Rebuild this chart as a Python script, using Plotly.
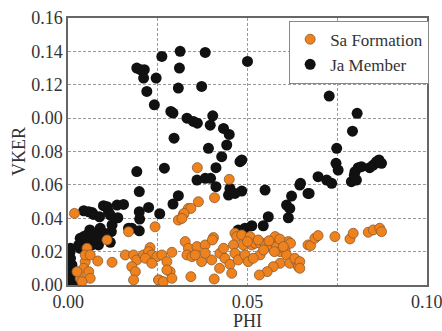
import plotly.graph_objects as go

# Ja Member (black)
ja_phi = [0.0191, 0.0201, 0.0212, 0.0210, 0.0219, 0.0261, 0.0312, 0.0310, 0.0307, 0.0245,
          0.0240, 0.0286, 0.0292, 0.0331, 0.0295, 0.0268, 0.0191, 0.0198, 0.0307, 0.0292,
          0.0224, 0.0255, 0.0198, 0.0199, 0.0177, 0.0168, 0.0198, 0.0138, 0.0122, 0.0117,
          0.0043, 0.0057, 0.0066, 0.0070, 0.0087, 0.0098, 0.0108, 0.0112, 0.0117, 0.0136,
          0.0154, 0.0089, 0.0084, 0.0070, 0.0061, 0.0052, 0.0043, 0.0033, 0.0029, 0.0033,
          0.0047, 0.0057, 0.0066, 0.0075, 0.0084, 0.0006, 0.0005, 0.0006, 0.0003, 0.0004,
          0.0006, 0.0015, 0.0019, 0.0010, 0.0020, 0.0012, 0.0030, 0.0060, 0.0100, 0.0050,
          0.0080, 0.0120,
          0.0382, 0.0500, 0.0372, 0.0349, 0.0360, 0.0403, 0.0396, 0.0433, 0.0449, 0.0442,
          0.0391, 0.0428, 0.0479, 0.0484, 0.0412, 0.0359, 0.0382, 0.0397, 0.0412, 0.0451,
          0.0447, 0.0465, 0.0484, 0.0549, 0.0474, 0.0493, 0.0512, 0.0544, 0.0558, 0.0614,
          0.0609, 0.0618, 0.0623, 0.0648, 0.0669,
          0.0728, 0.0806, 0.0793, 0.0749, 0.0747, 0.0753, 0.0697, 0.0721, 0.0735, 0.0646,
          0.0672, 0.0790, 0.0804, 0.0800, 0.0809, 0.0818, 0.0841, 0.0851, 0.0860, 0.0867,
          0.0874, 0.0798]
ja_vker = [0.130, 0.129, 0.129, 0.124, 0.116, 0.137, 0.140, 0.130, 0.118, 0.124,
           0.108, 0.104, 0.103, 0.100, 0.088, 0.070, 0.068, 0.056, 0.0535, 0.0485,
           0.0465, 0.0427, 0.0439, 0.0395, 0.034, 0.034, 0.0325, 0.0403, 0.036, 0.0256,
           0.0445, 0.0439, 0.0435, 0.0423, 0.0409, 0.0475, 0.0469, 0.0439, 0.0419, 0.0479,
           0.0483, 0.034, 0.030, 0.030, 0.030, 0.030, 0.029, 0.028, 0.024, 0.022,
           0.022, 0.024, 0.024, 0.025, 0.024, 0.022, 0.020, 0.016, 0.010, 0.006,
           0.002, 0.002, 0.000, 0.012, 0.008, 0.004, 0.001, 0.033, 0.031, 0.027,
           0.028, 0.032,
           0.1394, 0.134, 0.119, 0.098, 0.097, 0.1014, 0.0958, 0.0938, 0.0902, 0.0839,
           0.0819, 0.0769, 0.0739, 0.0749, 0.0703, 0.0629, 0.0639, 0.0639, 0.0589, 0.0579,
           0.0539, 0.0549, 0.0563, 0.0569, 0.0329, 0.0340, 0.0355, 0.0355, 0.0409, 0.0403,
           0.0479, 0.0459, 0.0533, 0.0609, 0.0549,
           0.1132, 0.1029, 0.0922, 0.0819, 0.0729, 0.0689, 0.0649, 0.0629, 0.0609, 0.0599,
           0.0549, 0.0619, 0.0629, 0.0679, 0.0703, 0.0709, 0.0703, 0.0719, 0.0739, 0.0749,
           0.0729, 0.0659]

# Sa Formation (orange)
sa_phi = [0.0017, 0.0242, 0.0168, 0.0108, 0.0228, 0.0159, 0.0122, 0.0082, 0.0052, 0.0047,
          0.0043, 0.0057, 0.0033, 0.0061, 0.0038, 0.0024, 0.0047, 0.0061, 0.0182, 0.0191,
          0.0177, 0.0187, 0.0182, 0.0210, 0.0224, 0.0233, 0.0247, 0.0261, 0.0275, 0.0284,
          0.0252, 0.0261, 0.0289, 0.0307, 0.0321, 0.0335, 0.0326, 0.0335, 0.0331,
          0.0360, 0.0449, 0.0408, 0.0363, 0.0342, 0.0323, 0.0317, 0.0359, 0.0382, 0.0405,
          0.0402, 0.0345, 0.0372, 0.0400, 0.0423, 0.0437, 0.0422, 0.0451, 0.0456, 0.0407,
          0.0342, 0.0465, 0.0470, 0.0461, 0.0465, 0.0474, 0.0484, 0.0488, 0.0493, 0.0502,
          0.0507, 0.0512, 0.0521, 0.0535, 0.0549, 0.0563, 0.0577, 0.0581, 0.0591, 0.0605,
          0.0614, 0.0609, 0.0591, 0.0572, 0.0555, 0.0533, 0.0535, 0.0516, 0.0618, 0.0637,
          0.0642, 0.0632, 0.0669, 0.0433, 0.0382, 0.0354,
          0.0646, 0.0646, 0.0676, 0.0688, 0.0697, 0.0744, 0.0786, 0.0795, 0.0837, 0.0851,
          0.0869, 0.0874,
          0.0215, 0.0252, 0.0265, 0.0289, 0.0275, 0.0233, 0.0530, 0.0560, 0.0590, 0.0620,
          0.0500, 0.0545, 0.0575, 0.0600]
sa_vker = [0.0429, 0.0349, 0.0319, 0.0270, 0.0224, 0.0180, 0.0136, 0.0144, 0.0220, 0.0140,
           0.0100, 0.0080, 0.0040, 0.0040, 0.0020, 0.0080, 0.0180, 0.0180, 0.0180, 0.0150,
           0.0110, 0.0080, 0.0030, 0.0180, 0.0200, 0.0180, 0.0170, 0.0180, 0.0140, 0.0080,
           0.0030, 0.0020, 0.0196, 0.0389, 0.0423, 0.0459, 0.0260, 0.0220, 0.0180,
           0.0703, 0.0633, 0.0523, 0.0499, 0.0459, 0.0429, 0.0399, 0.0230, 0.0240, 0.0284,
           0.0270, 0.0170, 0.0140, 0.0150, 0.0190, 0.0160, 0.0100, 0.0124, 0.0070, 0.0036,
           0.0050, 0.0310, 0.0290, 0.0240, 0.0190, 0.0150, 0.0300, 0.0240, 0.0180, 0.0140,
           0.0290, 0.0240, 0.0250, 0.0250, 0.0250, 0.0240, 0.0290, 0.0230, 0.0200, 0.0210,
           0.0260, 0.0180, 0.0130, 0.0110, 0.0080, 0.0060, 0.0180, 0.0160, 0.0130, 0.0140,
           0.0110, 0.0160, 0.0240, 0.0220, 0.0190, 0.0180,
           0.0140, 0.0100, 0.0236, 0.0280, 0.0296, 0.0290, 0.0276, 0.0310, 0.0316, 0.0330,
           0.0340, 0.0320,
           0.0160, 0.0030, 0.0020, 0.0040, 0.0090, 0.0130, 0.0270, 0.0265, 0.0275, 0.0250,
           0.0260, 0.0210, 0.0200, 0.0230]

x_tickvals = [0.0, 0.025, 0.05, 0.075, 0.1]
x_ticktext = ["0.00", "", "0.05", "", "0.10"]
y_tickvals = [0.0, 0.02, 0.04, 0.06, 0.08, 0.10, 0.12, 0.14, 0.16]
y_ticktext = ["0.00", "0.02", "0.04", "0.06", "0.08", "0.00", "0.12", "0.14", "0.16"]

FONT = "Liberation Serif"

fig = go.Figure()
fig.add_trace(go.Scatter(
    x=ja_phi, y=ja_vker, mode="markers", name="Ja Member",
    marker=dict(color="#111111", size=11, line=dict(width=0)),
))
fig.add_trace(go.Scatter(
    x=sa_phi, y=sa_vker, mode="markers", name="Sa Formation",
    marker=dict(color="#F0821E", size=10, line=dict(color="#8A5A2E", width=0.8)),
))

grid = dict(showgrid=True, gridcolor="#9a9a9a", gridwidth=1, griddash="3px,2px",
            showline=True, linecolor="#666666", linewidth=1.5, mirror=True,
            zeroline=False, ticks="", automargin=False, ticklabeloverflow="allow",
            tickfont=dict(family=FONT, size=18, color="#333333"))

fig.update_layout(
    width=442, height=331,
    margin=dict(l=68, r=15, t=18, b=46),
    paper_bgcolor="white", plot_bgcolor="white",
    showlegend=True,
    legend=dict(x=1.006, y=0.99, xanchor="right", yanchor="top",
                bgcolor="white", bordercolor="#888888", borderwidth=1,
                traceorder="reversed",
                font=dict(family=FONT, size=17, color="#333333"),
                itemwidth=30, tracegroupgap=0),
    xaxis=dict(range=[-0.0001, 0.1001], tickvals=x_tickvals, ticktext=x_ticktext,
               title=dict(text="PHI", font=dict(family=FONT, size=18, color="#333333"), standoff=2),
               **grid),
    yaxis=dict(range=[0, 0.16], tickvals=y_tickvals, ticktext=y_ticktext,
               title=dict(text="VKER", font=dict(family=FONT, size=18, color="#333333"), standoff=1),
               **grid),
)

fig.write_html("out.html")
